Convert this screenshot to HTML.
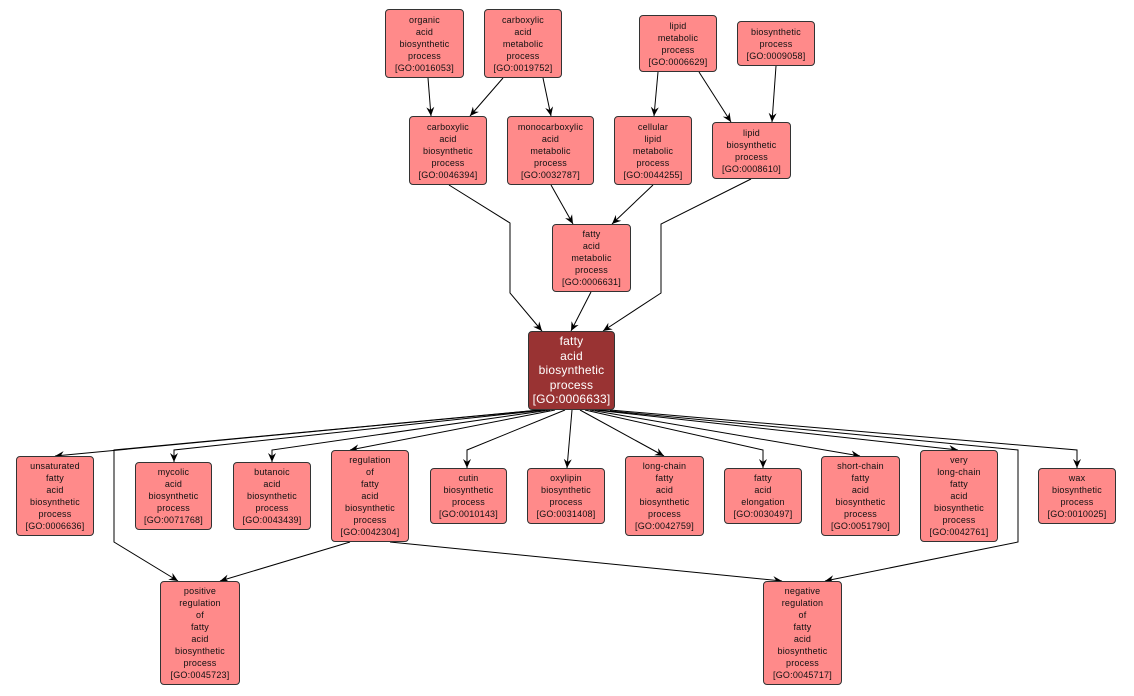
<!DOCTYPE html>
<html><head><meta charset="utf-8"><style>
body{margin:0;width:1134px;height:696px;background:#fff;position:relative;overflow:hidden;font-family:"Liberation Sans",sans-serif}
.n{position:absolute;box-sizing:border-box;background:#ff8a8a;border:1px solid #333;border-radius:4px;display:flex;align-items:center;justify-content:center;text-align:center;font-size:9px;line-height:12px;color:#111;letter-spacing:0.2px}
.c{background:#993333;color:#fff;font-size:12px;line-height:14.5px}
svg{position:absolute;left:0;top:0}
</style></head><body>
<svg width="1134" height="696" viewBox="0 0 1134 696">
<defs><marker id="a" markerWidth="10" markerHeight="10" refX="9" refY="5" orient="auto" markerUnits="userSpaceOnUse"><path d="M0,1 L9,5 L0,9 L3,5 z" fill="#000"/></marker></defs>
<g fill="none" stroke="#000" stroke-width="1" marker-end="url(#a)">
<path d="M428,78 L431,116"/>
<path d="M503,78 L470,116"/>
<path d="M543,78 L551,116"/>
<path d="M658,72 L654,116"/>
<path d="M699,72 L731,122"/>
<path d="M776,66 L772,122"/>
<path d="M449,185 L510,223 L510,293 L542,331"/>
<path d="M551,185 L573,224"/>
<path d="M653,185 L612,224"/>
<path d="M751,179 L661,224 L661,293 L603,331"/>
<path d="M591,292 L571,331"/>
<path d="M540,410 L55,456"/>
<path d="M540,410 L114,450 L114,542 L178,581"/>
<path d="M545,410 L174,450 L174,462"/>
<path d="M550,410 L272,450 L272,462"/>
<path d="M555,410 L350,450"/>
<path d="M565,410 L467,450 L467,468"/>
<path d="M572,410 L567,468"/>
<path d="M580,410 L664,456"/>
<path d="M585,410 L763,450 L763,468"/>
<path d="M590,410 L860,456"/>
<path d="M595,410 L958,450"/>
<path d="M600,410 L1018,450 L1018,542 L825,581"/>
<path d="M610,410 L1077,450 L1077,468"/>
<path d="M350,542 L220,581"/>
<path d="M390,542 L782,581"/>
</g></svg>
<div class="n" style="left:385px;top:9px;width:79px;height:69px">organic<br>acid<br>biosynthetic<br>process<br>[GO:0016053]</div>
<div class="n" style="left:484px;top:9px;width:78px;height:69px">carboxylic<br>acid<br>metabolic<br>process<br>[GO:0019752]</div>
<div class="n" style="left:639px;top:15px;width:78px;height:57px">lipid<br>metabolic<br>process<br>[GO:0006629]</div>
<div class="n" style="left:737px;top:21px;width:78px;height:45px">biosynthetic<br>process<br>[GO:0009058]</div>
<div class="n" style="left:409px;top:116px;width:78px;height:69px">carboxylic<br>acid<br>biosynthetic<br>process<br>[GO:0046394]</div>
<div class="n" style="left:507px;top:116px;width:87px;height:69px">monocarboxylic<br>acid<br>metabolic<br>process<br>[GO:0032787]</div>
<div class="n" style="left:614px;top:116px;width:78px;height:69px">cellular<br>lipid<br>metabolic<br>process<br>[GO:0044255]</div>
<div class="n" style="left:712px;top:122px;width:79px;height:57px">lipid<br>biosynthetic<br>process<br>[GO:0008610]</div>
<div class="n" style="left:552px;top:224px;width:79px;height:68px">fatty<br>acid<br>metabolic<br>process<br>[GO:0006631]</div>
<div class="n c" style="left:528px;top:331px;width:87px;height:79px">fatty<br>acid<br>biosynthetic<br>process<br>[GO:0006633]</div>
<div class="n" style="left:16px;top:456px;width:78px;height:80px">unsaturated<br>fatty<br>acid<br>biosynthetic<br>process<br>[GO:0006636]</div>
<div class="n" style="left:135px;top:462px;width:77px;height:68px">mycolic<br>acid<br>biosynthetic<br>process<br>[GO:0071768]</div>
<div class="n" style="left:233px;top:462px;width:78px;height:68px">butanoic<br>acid<br>biosynthetic<br>process<br>[GO:0043439]</div>
<div class="n" style="left:331px;top:450px;width:78px;height:92px">regulation<br>of<br>fatty<br>acid<br>biosynthetic<br>process<br>[GO:0042304]</div>
<div class="n" style="left:430px;top:468px;width:77px;height:56px">cutin<br>biosynthetic<br>process<br>[GO:0010143]</div>
<div class="n" style="left:527px;top:468px;width:78px;height:56px">oxylipin<br>biosynthetic<br>process<br>[GO:0031408]</div>
<div class="n" style="left:625px;top:456px;width:79px;height:80px">long-chain<br>fatty<br>acid<br>biosynthetic<br>process<br>[GO:0042759]</div>
<div class="n" style="left:724px;top:468px;width:78px;height:56px">fatty<br>acid<br>elongation<br>[GO:0030497]</div>
<div class="n" style="left:821px;top:456px;width:79px;height:80px">short-chain<br>fatty<br>acid<br>biosynthetic<br>process<br>[GO:0051790]</div>
<div class="n" style="left:920px;top:450px;width:78px;height:92px">very<br>long-chain<br>fatty<br>acid<br>biosynthetic<br>process<br>[GO:0042761]</div>
<div class="n" style="left:1038px;top:468px;width:78px;height:56px">wax<br>biosynthetic<br>process<br>[GO:0010025]</div>
<div class="n" style="left:160px;top:581px;width:80px;height:104px">positive<br>regulation<br>of<br>fatty<br>acid<br>biosynthetic<br>process<br>[GO:0045723]</div>
<div class="n" style="left:763px;top:581px;width:79px;height:104px">negative<br>regulation<br>of<br>fatty<br>acid<br>biosynthetic<br>process<br>[GO:0045717]</div>
</body></html>
